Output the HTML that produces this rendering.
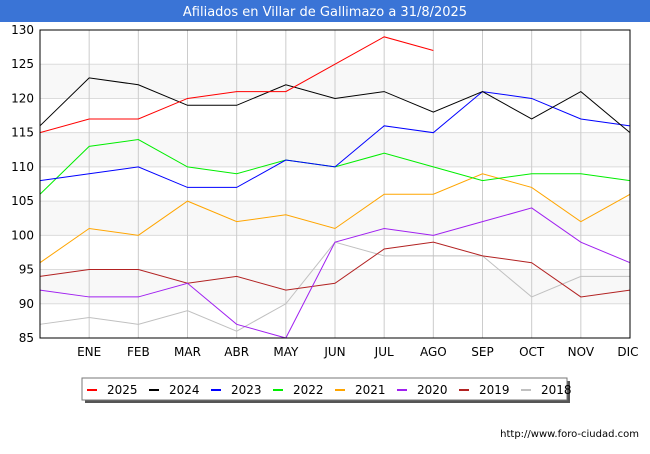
<!DOCTYPE html>
<html><head><meta charset="utf-8"><style>
body{margin:0;width:650px;height:450px;background:#fff;font-family:"DejaVu Sans","Liberation Sans",sans-serif;overflow:hidden}
</style></head><body>
<svg width="650" height="450">
<rect x="0" y="0" width="650" height="22" fill="#3a74d6"/>
<text x="325" y="16" text-anchor="middle" fill="#fff" font-size="13">Afiliados en Villar de Gallimazo a 31/8/2025</text>
<rect x="40" y="30" width="590" height="308" fill="#f8f8f8"/>
<g id="grid"></g><g id="series"></g>
<rect x="40" y="30" width="590" height="308" fill="none" stroke="#000"/>
<g id="axes" font-size="12" fill="#000"></g>
<rect x="85" y="381" width="485" height="22" fill="#555"/>
<rect x="82" y="378" width="485" height="22" fill="#fff" stroke="#777"/>
<g id="legend" font-size="12"></g>
<text x="639" y="437" text-anchor="end" font-size="10">http://www.foro-ciudad.com</text>
</svg>
<script>
const months=["","ENE","FEB","MAR","ABR","MAY","JUN","JUL","AGO","SEP","OCT","NOV","DIC"];
const yTicks=[85,90,95,100,105,110,115,120,125,130];
const years=["2025","2024","2023","2022","2021","2020","2019","2018"];
const colors=["#ff0000","#000000","#0000ff","#00ee00","#ffa500","#a020f0","#b22222","#c0c0c0"];
const s2025=[115,117,117,120,121,121,125,129,127];
const s2024=[116,123,122,119,119,122,120,121,118,121,117,121,115];
const s2023=[108,109,110,107,107,111,110,116,115,121,120,117,116];
const s2022=[106,113,114,110,109,111,110,112,110,108,109,109,108];
const s2021=[96,101,100,105,102,103,101,106,106,109,107,102,106];
const s2020=[92,91,91,93,87,85,99,101,100,102,104,99,96];
const s2019=[94,95,95,93,94,92,93,98,99,97,96,91,92];
const s2018=[87,88,87,89,86,90,99,97,97,97,91,94,94];
const series=[s2025,s2024,s2023,s2022,s2021,s2020,s2019,s2018];
const NS="http://www.w3.org/2000/svg";
const X=i=>40+i*(590/12), Y=v=>338-(v-85)*(308/45);
function mk(t,a,p){const e=document.createElementNS(NS,t);for(const k in a)e.setAttribute(k,a[k]);p.appendChild(e);return e;}
const grid=document.getElementById('grid'),axes=document.getElementById('axes');
for(let i=0;i<yTicks.length-1;i+=2){const r=mk('rect',{x:40,y:Y(yTicks[i+1]),width:590,height:Y(yTicks[i])-Y(yTicks[i+1]),fill:'#ffffff'},grid);
}
yTicks.forEach(v=>{const l=mk('line',{x1:40,x2:630,y1:Y(v),y2:Y(v),stroke:'#dcdcdc'},grid);

const t=mk('text',{x:34,y:Y(v)+4,'text-anchor':'end'},axes);t.textContent=v;
});
months.forEach((m,i)=>{if(i>0){const l=mk('line',{x1:X(i),x2:X(i),y1:30,y2:338,stroke:'#cccccc'},grid);
}
const t=mk('text',{x:i==12?X(i)-2:X(i),y:356,'text-anchor':'middle'},axes);t.textContent=m;
});
const sg=document.getElementById('series');
for(let k=series.length-1;k>=0;k--){const p=mk('polyline',{points:series[k].map((v,i)=>X(i)+','+Y(v)).join(' '),fill:'none',stroke:colors[k],'stroke-width':1},sg);
}
const lg=document.getElementById('legend');
years.forEach((y,k)=>{const x=87+k*62;const l=mk('line',{x1:x,x2:x+10,y1:390,y2:390,stroke:colors[k],'stroke-width':2},lg);

const t=mk('text',{x:x+20,y:394},lg);t.textContent=y;
});
</script>
</body></html>
